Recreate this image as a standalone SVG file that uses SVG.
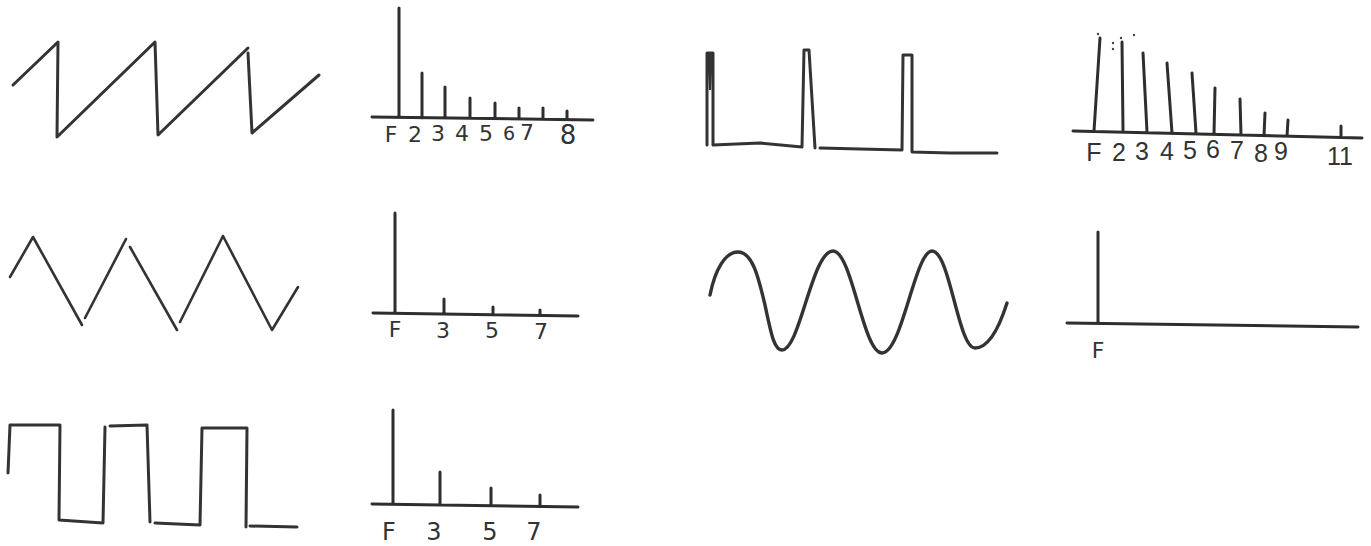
<svg xmlns="http://www.w3.org/2000/svg" width="1371" height="546" viewBox="0 0 1371 546">
<style>
.w{fill:none;stroke:#333;stroke-width:3;stroke-linejoin:round;stroke-linecap:round}
.t{stroke-width:2.6}
.s{fill:none;stroke:#2e2e2e;stroke-width:3;stroke-linecap:round}
.l{font-family:"DejaVu Sans","Liberation Sans",sans-serif;font-size:22px;fill:#333;text-anchor:middle}
.b{font-family:"Liberation Sans","DejaVu Sans",sans-serif;font-size:25px}
.d{fill:#444}
</style>
<rect width="1371" height="546" fill="#fff"/>

<g id="sawtooth">
<polyline class="w" points="13,85 58,42 57,137 155,42 158,135 248,48"/>
<polyline class="w" points="248,53 252,133 319,75"/>
</g>

<g id="sawtooth-spectrum">
<path class="s" d="M372,117 L593,120 M399,117 V8 M422,118 V73 M445,118 V87 M470,118 V98 M495,118 V103 M519,119 V108 M543,119 V108 M567,119 V111"/>
<text class="l" x="391" y="142">F</text>
<text class="l" x="415" y="142">2</text>
<text class="l" x="438" y="141">3</text>
<text class="l" x="462" y="141">4</text>
<text class="l" x="486" y="141">5</text>
<text class="l" x="509" y="140" style="font-size:19px">6</text>
<text class="l" x="527" y="140">7</text>
<text class="l" x="568" y="144" style="font-size:26px">8</text>
</g>

<g id="pulse">
<polyline class="w" points="707,145 707,53 713,53 713,145 760,143 802,147 804,50 809,50 815,148"/>
<path d="M707,53 L713,53 L711,90 L709,90 Z" fill="#333"/>
<polyline class="w" points="820,148 860,149 902,150 903,55 912,55 912,152 950,153 997,153"/>
</g>

<g id="pulse-spectrum">
<path class="s" d="M1073,131 L1362,138 M1094,131 L1100,38 M1123,130 L1122,42 M1147,132 L1143,53 M1172,133 L1167,63 M1196,133 L1192,73 M1214,134 L1215,88 M1241,135 L1240,99 M1264,136 L1265,113 M1287,136 L1288,120 M1341,137 V126"/>
<circle class="d" cx="1098" cy="34" r="1.2"/>
<circle class="d" cx="1113" cy="43" r="1.2"/>
<circle class="d" cx="1113" cy="49" r="1.2"/>
<circle class="d" cx="1121" cy="38" r="1.2"/>
<circle class="d" cx="1134" cy="35" r="1.2"/>
<text class="l b" x="1094" y="161">F</text>
<text class="l b" x="1119" y="161">2</text>
<text class="l b" x="1142" y="160">3</text>
<text class="l b" x="1167" y="160">4</text>
<text class="l b" x="1190" y="159">5</text>
<text class="l b" x="1213" y="158">6</text>
<text class="l b" x="1237" y="159">7</text>
<text class="l b" x="1261" y="162">8</text>
<text class="l b" x="1281" y="160">9</text>
<text class="l b" x="1340" y="165">11</text>
</g>

<g id="triangle">
<polyline class="w t" points="10,277 33,237 82,325"/>
<polyline class="w t" points="85,318 126,239"/>
<polyline class="w t" points="130,247 177,330"/>
<polyline class="w t" points="180,322 223,236 272,330 298,287"/>
</g>

<g id="triangle-spectrum">
<path class="s" d="M373,313 L578,316 M395,312 V213 M444,313 V299 M493,314 V307 M540,315 V310"/>
<text class="l" x="395" y="337">F</text>
<text class="l" x="443" y="338">3</text>
<text class="l" x="492" y="338">5</text>
<text class="l" x="541" y="339">7</text>
</g>

<g id="sine">
<path class="w" style="stroke-width:3.4" d="M710,295 C715,270 725,252 738,252 C752,252 758,275 765,305 C771,333 774,350 782,350 C800,350 812,251 833,251 C852,251 863,353 882,353 C902,353 915,251 932,251 C950,251 958,348 975,348 C990,348 1000,325 1007,303"/>
</g>

<g id="sine-spectrum">
<path class="s" d="M1067,323 L1358,327 M1098,322 V232"/>
<text class="l" x="1098" y="358">F</text>
</g>

<g id="square">
<polyline class="w" points="8,473 10,425 60,425 59,520 103,523 105,427"/>
<polyline class="w" points="110,426 147,425 150,522"/>
<polyline class="w" points="155,523 200,525 202,428 247,428 246,527"/>
<polyline class="w" points="250,526 297,527"/>
</g>

<g id="square-spectrum">
<path class="s" d="M372,504 L578,507 M393,503 V410 M440,504 V472 M491,505 V488 M540,506 V495"/>
<text class="l" x="389" y="540" style="font-size:24px">F</text>
<text class="l" x="434" y="540" style="font-size:24px">3</text>
<text class="l" x="490" y="540" style="font-size:24px">5</text>
<text class="l" x="534" y="540" style="font-size:24px">7</text>
</g>
</svg>
